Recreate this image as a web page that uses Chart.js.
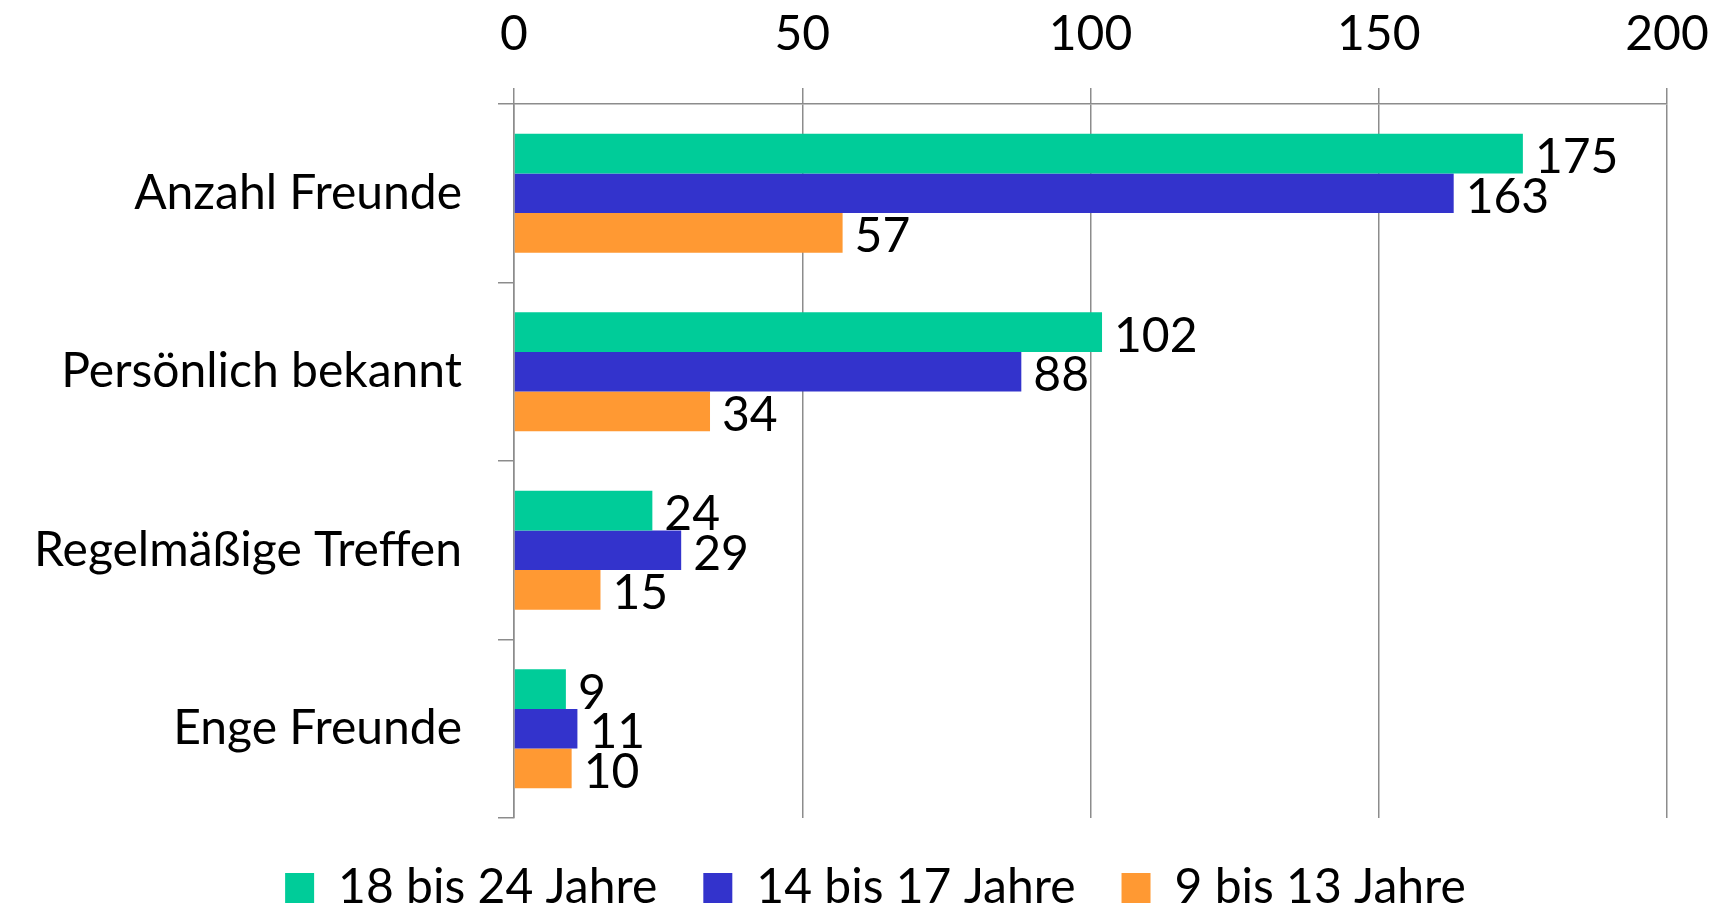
<!DOCTYPE html>
<html>
<head>
<meta charset="utf-8">
<script src="https://cdn.jsdelivr.net/npm/chart.js@4.4.1/dist/chart.umd.min.js"></script>
<style>
  html, body { margin: 0; padding: 0; background: #fff; }
  #graph { display: block; }
</style>
</head>
<body>
<canvas id="graph" width="1715" height="909"></canvas>
<script>
// -------------------------
// DATA
// -------------------------
const categories = ["Anzahl Freunde", "Persönlich bekannt", "Regelmäßige Treffen", "Enge Freunde"];
const seriesNames = ["18 bis 24 Jahre", "14 bis 17 Jahre", "9 bis 13 Jahre"];
const values18to24 = [175, 102, 24, 9];
const values14to17 = [163, 88, 29, 11];
const values9to13 = [57, 34, 15, 10];
const xTicks = [0, 50, 100, 150, 200];

const colors = ["#00CC99", "#3333CC", "#FF9933"];
const FONT = "Lato, 'Open Sans', sans-serif";
const GRID = "#8c8c8c";

// -------------------------
// VALUE LABELS
// -------------------------
const valueLabels = {
  id: "valueLabels",
  afterDatasetsDraw(chart) {
    const ctx = chart.ctx;
    ctx.save();
    ctx.font = "48px " + FONT;
    ctx.fillStyle = "#000";
    ctx.textAlign = "left";
    ctx.textBaseline = "middle";
    chart.data.datasets.forEach((ds, i) => {
      chart.getDatasetMeta(i).data.forEach((bar, j) => {
        ctx.fillText(String(ds.data[j]), bar.x + 12, bar.y + 4);
      });
    });
    ctx.restore();
  }
};

// legend in the original sits a bit right of the canvas centre
const legendShift = {
  id: "legendShift",
  afterLayout(chart) {
    chart.legend.left += 42;
    chart.legend.right += 42;
  }
};

// -------------------------
// INIT CHART
// -------------------------
const ctx = document.getElementById("graph").getContext("2d");

const chart = new Chart(ctx, {
  type: "bar",
  data: {
    labels: categories,
    datasets: [
      { label: seriesNames[0], data: values18to24, backgroundColor: colors[0] },
      { label: seriesNames[1], data: values14to17, backgroundColor: colors[1] },
      { label: seriesNames[2], data: values9to13, backgroundColor: colors[2] }
    ]
  },
  options: {
    indexAxis: "y",
    responsive: false,
    animation: false,
    devicePixelRatio: 1,
    categoryPercentage: 0.667,
    barPercentage: 1,
    layout: { padding: { left: 0, right: 48, top: 0, bottom: -13 } },
    plugins: {
      tooltip: { enabled: false },
      legend: {
        position: "bottom",
        labels: {
          font: { family: FONT, size: 48 },
          color: "#000",
          boxWidth: 29,
          boxHeight: 30,
          padding: 46
        }
      }
    },
    scales: {
      x: {
        position: "top",
        min: 0,
        max: 200,
        afterBuildTicks: s => { s.ticks = xTicks.map(v => ({ value: v })); },
        afterFit: s => { s.height = 104; s.paddingLeft = 0; s.paddingRight = 0; },
        ticks: {
          font: { family: FONT, size: 48 },
          color: "#000",
          padding: 25
        },
        grid: { color: GRID, lineWidth: 1.5, tickLength: 16 },
        border: { color: GRID, width: 1.5 }
      },
      y: {
        afterFit: s => { s.width = 514; },
        ticks: {
          font: { family: FONT, size: 48 },
          color: "#000",
          padding: 36
        },
        grid: { color: GRID, lineWidth: 1.5, tickLength: 16, drawOnChartArea: false },
        border: { color: GRID, width: 1.5 }
      }
    }
  },
  plugins: [valueLabels, legendShift]
});
</script>
</body>
</html>
